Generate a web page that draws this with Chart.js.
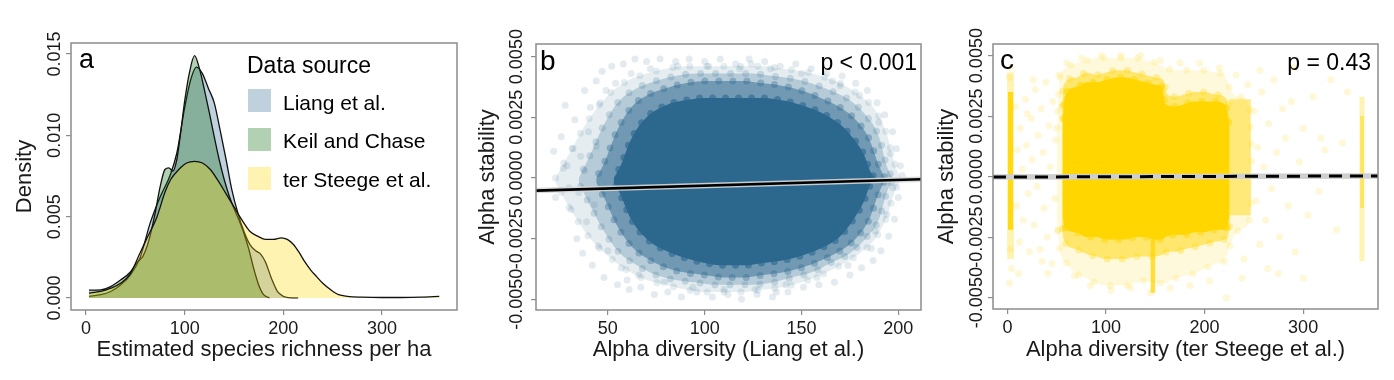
<!DOCTYPE html>
<html><head><meta charset="utf-8">
<script src="https://cdn.jsdelivr.net/npm/chart.js@4.4.1/dist/chart.umd.min.js"></script>
<style>
html,body{margin:0;padding:0;background:#fff;width:1394px;height:380px;overflow:hidden}
canvas{position:absolute;top:0}
</style></head><body>
<canvas id="ca" width="470" height="380" style="left:0px"></canvas>
<canvas id="cb" width="460" height="380" style="left:470px"></canvas>
<canvas id="cc" width="464" height="380" style="left:930px"></canvas>
<script>
// ---------------- Panel a: density curves ----------------
const densTicksX = [0, 100, 200, 300];
const densTicksY = [0, 0.005, 0.010, 0.015];
const seriesNames = ['Liang et al.', 'Keil and Chase', 'ter Steege et al.'];
const liangX = [3, 15, 25, 35, 45, 55, 65, 75, 85, 92, 100, 106, 112, 118, 124, 130, 136, 142, 148, 154, 160, 166, 172, 177, 182, 188, 194, 200, 206, 215];
const liangY = [0.0001, 0.0002, 0.0004, 0.0008, 0.0014, 0.0025, 0.0046, 0.0062, 0.0075, 0.0089, 0.0117, 0.0134, 0.0142, 0.0138, 0.0129, 0.0120, 0.0103, 0.0085, 0.0066, 0.0052, 0.0041, 0.0033, 0.0029, 0.0027, 0.0022, 0.0012, 0.0004, 0.0001, 0.00002, 0];
const keilX = [3, 15, 25, 35, 45, 52, 58, 64, 70, 75, 80, 84, 88, 92, 96, 100, 105, 110, 115, 120, 125, 130, 135, 140, 145, 150, 155, 160, 165, 170, 175, 180, 186];
const keilY = [0.00048, 0.0005, 0.0007, 0.0011, 0.0016, 0.0022, 0.0026, 0.0036, 0.0052, 0.0068, 0.0079, 0.0080, 0.0078, 0.0085, 0.0102, 0.0121, 0.0139, 0.0149, 0.0141, 0.0128, 0.0114, 0.0099, 0.0085, 0.0073, 0.0063, 0.0055, 0.0048, 0.0040, 0.0030, 0.0018, 0.0008, 0.0002, 0];
const steegeX = [3, 15, 25, 35, 45, 55, 62, 72, 80, 86, 94, 102, 110, 118, 126, 134, 142, 150, 158, 166, 174, 182, 190, 198, 204, 210, 216, 222, 228, 234, 240, 248, 256, 265, 280, 300, 320, 340, 358];
const steegeY = [0.0003, 0.0004, 0.0006, 0.0009, 0.0015, 0.0028, 0.0037, 0.0050, 0.0065, 0.0073, 0.0079, 0.0083, 0.0084, 0.0083, 0.0079, 0.0072, 0.0064, 0.0056, 0.0048, 0.0041, 0.0038, 0.0036, 0.0036, 0.0037, 0.0036, 0.0033, 0.0028, 0.0022, 0.0017, 0.0013, 0.0009, 0.0005, 0.0002, 0.0001, 0.00005, 0.00003, 0.00003, 0.00005, 0.0001];

// ---------------- Shared stability ticks ----------------
const stabTicksY = [-0.005, -0.0025, 0, 0.0025, 0.005];

// ---------------- Panel b: Liang et al. ----------------
const bTicksX = [50, 100, 150, 200];
const bFitX = [12.9, 211.7];
const bFitY = [-0.00052, -0.000055];
const bHaloX = [23, 30, 40, 50, 60, 70, 80, 90, 100, 110, 120, 130, 140, 150, 160, 170, 180, 188, 194, 198, 201];
const bHaloUp = [0.0000, 0.0010, 0.0024, 0.0034, 0.0040, 0.0043, 0.0045, 0.0046, 0.0046, 0.0046, 0.0046, 0.0046, 0.0045, 0.0044, 0.0042, 0.0039, 0.0034, 0.0028, 0.0018, 0.0006, 0.0000];
const bHaloLo = [-0.0002, -0.0012, -0.0024, -0.0032, -0.0038, -0.0042, -0.0044, -0.0046, -0.0047, -0.0047, -0.0047, -0.0046, -0.0045, -0.0043, -0.0040, -0.0036, -0.0031, -0.0025, -0.0016, -0.0006, -0.0001];
const bMidX = [35, 40, 48, 55, 65, 75, 85, 95, 105, 115, 125, 135, 145, 155, 165, 175, 183, 190, 194, 197];
const bMidUp = [0.0000, 0.0008, 0.0022, 0.0031, 0.0037, 0.0040, 0.0042, 0.0043, 0.0043, 0.0043, 0.0043, 0.0042, 0.0041, 0.0039, 0.0036, 0.0032, 0.0026, 0.0017, 0.0005, 0.0000];
const bMidLo = [-0.0002, -0.0010, -0.0022, -0.0030, -0.0036, -0.0040, -0.0042, -0.0043, -0.0044, -0.0044, -0.0044, -0.0043, -0.0041, -0.0039, -0.0035, -0.0031, -0.0025, -0.0017, -0.0006, -0.0001];
const bDenseX = [44, 48, 55, 62, 70, 80, 90, 100, 110, 120, 130, 140, 150, 160, 170, 178, 185, 190, 193];
const bDenseUp = [0.0000, 0.0006, 0.0020, 0.0029, 0.0034, 0.0037, 0.0039, 0.0040, 0.0040, 0.0040, 0.0039, 0.0038, 0.0036, 0.0033, 0.0029, 0.0024, 0.0016, 0.0005, 0.0000];
const bDenseLo = [-0.0002, -0.0008, -0.0020, -0.0028, -0.0033, -0.0037, -0.0039, -0.0040, -0.0041, -0.0041, -0.0040, -0.0039, -0.0037, -0.0034, -0.0030, -0.0025, -0.0017, -0.0006, -0.0001];
const bCoreX = [53, 56, 62, 70, 80, 90, 100, 110, 120, 130, 140, 150, 160, 170, 176, 182, 186, 188];
const bCoreUp = [0.0000, 0.0004, 0.0016, 0.0025, 0.0030, 0.0032, 0.0033, 0.0033, 0.0033, 0.0033, 0.0032, 0.0030, 0.0027, 0.0022, 0.0017, 0.0010, 0.0002, 0.0000];
const bCoreLo = [-0.0002, -0.0006, -0.0017, -0.0025, -0.0030, -0.0033, -0.0035, -0.0036, -0.0036, -0.0035, -0.0034, -0.0032, -0.0029, -0.0024, -0.0018, -0.0010, -0.0002, -0.0001];
const bPtsX = [22,23,26,28,29,31,33,34,36,37,38,39,41,42,44,45,47,48,52,55,58,61,64,67,70,74,77,81,85,88,92,96,100,104,108,112,116,119,123,127,131,135,139,143,147,151,155,159,163,167,171,175,178,181,184,187,189,191,193,195,197,198,199,200,201,202,
  32,35,40,43,46,50,54,57,62,66,72,79,86,94,102,110,118,126,134,142,150,158,166,174,180,186,190,194,196,197,
  30,27,38,44,49,60,124,137,170,188];
const bPtsY = [0.0011,-0.0008,0.0017,0.0030,0.0005,-0.0013,0.0024,-0.0025,0.0009,-0.0031,0.0036,-0.0018,0.0029,-0.0036,0.0040,-0.0028,0.0044,-0.0041,0.0046,-0.0044,0.0047,-0.0046,0.0049,-0.0045,0.0048,-0.0048,0.0049,-0.0047,0.0048,-0.0049,0.0049,-0.0047,0.0048,-0.0049,0.0049,-0.0048,0.0047,-0.0050,0.0049,-0.0048,0.0048,-0.0049,0.0046,-0.0047,0.0047,-0.0045,0.0045,-0.0044,0.0043,-0.0043,0.0042,-0.0040,0.0039,-0.0037,0.0036,-0.0034,0.0031,-0.0030,0.0026,-0.0024,0.0019,-0.0017,0.0012,-0.0008,0.0005,0.0001,
  0.0012,-0.0006,0.0019,-0.0011,0.0031,-0.0030,0.0039,-0.0037,0.0043,-0.0040,0.0045,-0.0043,0.0046,-0.0045,0.0046,-0.0046,0.0045,-0.0046,0.0045,-0.0044,0.0043,-0.0041,0.0040,-0.0036,0.0034,-0.0029,0.0023,-0.0015,0.0010,-0.0004,
  -0.0004,0.0004,0.0003,0.0013,0.0036,-0.0042,0.0047,-0.0047,0.0038,-0.0022];

// ---------------- Panel c: ter Steege et al. ----------------
const cTicksX = [0, 100, 200, 300];
const cFitX = [-14.8, 376];
const cFitY = [-0.00002, 0.00003];
const cHaloX = [50, 53, 60, 70, 80, 90, 100, 110, 120, 130, 140, 150, 160, 170, 180, 190, 200, 210, 220, 226, 235, 245, 248];
const cHaloUp = [0.0020, 0.0040, 0.0045, 0.0047, 0.0048, 0.0049, 0.0049, 0.0049, 0.0049, 0.0049, 0.0048, 0.0047, 0.0045, 0.0044, 0.0044, 0.0044, 0.0044, 0.0043, 0.0042, 0.0036, 0.0033, 0.0030, 0.0005];
const cHaloLo = [-0.0018, -0.0030, -0.0036, -0.0040, -0.0042, -0.0044, -0.0045, -0.0045, -0.0045, -0.0044, -0.0043, -0.0044, -0.0044, -0.0042, -0.0041, -0.0040, -0.0038, -0.0036, -0.0035, -0.0028, -0.0022, -0.0019, -0.0005];
const cMidX = [55, 57, 70, 80, 90, 100, 110, 120, 130, 140, 150, 158, 162, 170, 180, 190, 200, 210, 220, 224, 226];
const cMidUp = [0.0025, 0.0038, 0.0041, 0.0043, 0.0042, 0.0043, 0.0044, 0.0044, 0.0043, 0.0042, 0.0041, 0.0040, 0.0034, 0.0033, 0.0034, 0.0035, 0.0035, 0.0034, 0.0033, 0.0030, 0.0025];
const cMidLo = [-0.0020, -0.0026, -0.0030, -0.0032, -0.0033, -0.0034, -0.0034, -0.0034, -0.0033, -0.0033, -0.0033, -0.0032, -0.0031, -0.0031, -0.0030, -0.0029, -0.0028, -0.0027, -0.0026, -0.0024, -0.0018];
const cCoreX = [56, 58, 70, 80, 90, 100, 110, 120, 130, 140, 150, 157, 160, 170, 180, 190, 200, 210, 220, 223, 225];
const cCoreUp = [0.0022, 0.0033, 0.0037, 0.0039, 0.0039, 0.0040, 0.0041, 0.0041, 0.0040, 0.0039, 0.0038, 0.0037, 0.0030, 0.0029, 0.0030, 0.0031, 0.0031, 0.0031, 0.0030, 0.0027, 0.0021];
const cCoreLo = [-0.0016, -0.0021, -0.0023, -0.0025, -0.0025, -0.0026, -0.0026, -0.0026, -0.0025, -0.0025, -0.0026, -0.0026, -0.0025, -0.0024, -0.0024, -0.0023, -0.0023, -0.0022, -0.0022, -0.0021, -0.0016];
const cExtX = [225, 247];
const cExtUp = [0.0032, 0.0032];
const cExtLo = [-0.0016, -0.0016];
const cNotchX = [145, 150];
const cNotchUp = [-0.0020, -0.0020];
const cNotchLo = [-0.0048, -0.0048];
const cColLX = [-0.5, 6.5];
const cColLUp = [0.0043, 0.0043];
const cColLLo = [-0.0034, -0.0034];
const cColLDX = [0.3, 5.7];
const cColLDUp = [0.0035, 0.0035];
const cColLDLo = [-0.0022, -0.0022];
const cColRX = [357, 362.5];
const cColRUp = [0.0033, 0.0033];
const cColRLo = [-0.0035, -0.0035];
const cColRDX = [357.8, 361.8];
const cColRDUp = [0.0025, 0.0025];
const cColRDLo = [-0.0013, -0.0013];
const cPtsX = [8,9,10,12,13,15,16,18,19,21,22,24,25,27,28,30,31,33,34,36,37,39,40,42,43,45,46,48,49,51,52,11,26,41,20,35,
  250,252,254,256,258,260,262,265,268,270,273,276,279,282,285,288,292,296,300,305,310,316,322,328,334,340,256,264,275,290,300,318,345,
  60,68,75,84,95,105,115,125,135,145,155,165,175,185,195,205,215,222,232,240,244,238,
  2,3,4,2,3];
const cPtsY = [0.0029,-0.0012,0.0011,-0.0027,0.0020,0.0003,-0.0018,0.0032,0.0013,-0.0007,-0.0031,0.0024,0.0007,-0.0020,0.0036,-0.0004,0.0017,-0.0030,0.0028,0.0010,-0.0013,0.0039,-0.0025,0.0021,0.0004,-0.0036,0.0031,-0.0009,0.0015,-0.0022,0.0042,-0.0040,0.0040,-0.0040,0.0026,-0.0035,
  0.0027,-0.0010,0.0012,-0.0028,0.0035,0.0004,-0.0018,0.0022,-0.0005,0.0040,0.0010,-0.0025,0.0028,0.0016,-0.0012,0.0031,-0.0031,0.0006,0.0020,-0.0016,0.0033,-0.0006,0.0011,0.0040,-0.0022,0.0014,0.0044,-0.0038,-0.0040,0.0045,-0.0042,0.0016,0.0035,
  0.0047,-0.0041,0.0049,-0.0045,0.0050,-0.0047,0.0050,-0.0046,0.0050,-0.0048,0.0048,-0.0046,0.0047,-0.0045,0.0047,-0.0043,0.0045,-0.0050,0.0042,-0.0034,0.0038,-0.0042,
  -0.0044,0.0045,-0.0038,0.0041,-0.0030];

// ---------------- helpers ----------------
const FONT = "'Liberation Sans', Arial, Helvetica, sans-serif";
const INK = '#1a1a1a';
const NONE = 'rgba(0,0,0,0)';
const pts = (xs, ys) => xs.slice(0, Math.min(xs.length, ys.length)).map((x, i) => ({x: x, y: ys[i]}));
function edgeStyle(edge, gap, off) {
  return edge ? {borderColor: edge, borderWidth: 7, borderDash: [0, gap], borderDashOffset: off, borderCapStyle: 'round'}
              : {borderColor: NONE, borderWidth: 0};
}
function band(xs, up, lo, color, edge, gap, off) {
  return [
    Object.assign({type: 'line', data: pts(xs, up), fill: '+1', backgroundColor: color, pointRadius: 0, cubicInterpolationMode: 'monotone'}, edgeStyle(edge, gap || 9, off || 0)),
    Object.assign({type: 'line', data: pts(xs, lo), fill: false, backgroundColor: NONE, pointRadius: 0, cubicInterpolationMode: 'monotone'}, edgeStyle(edge, gap || 9, (off || 0) + 6))
  ];
}
function dots(xs, ys, color, r) {
  return {type: 'line', showLine: false, data: pts(xs, ys), pointRadius: r, pointBackgroundColor: color, pointBorderWidth: 0, pointBorderColor: NONE, borderColor: NONE, fill: false};
}
function ordered(list) { list.forEach((d, i) => { d.order = list.length - i; }); return list; }

const framePlugin = {
  id: 'frame',
  afterDatasetsDraw(chart) {
    const {ctx, chartArea: a} = chart;
    ctx.save();
    ctx.strokeStyle = '#8c8c8c';
    ctx.lineWidth = 1.5;
    ctx.strokeRect(a.left, a.top, a.right - a.left, a.bottom - a.top);
    ctx.restore();
  }
};
function textPlugin(items) {
  return {
    id: 'texts',
    afterDraw(chart) {
      const ctx = chart.ctx;
      ctx.save();
      items.forEach(t => {
        ctx.font = t.size + 'px ' + FONT;
        ctx.fillStyle = t.color || '#000';
        ctx.textAlign = t.align || 'left';
        ctx.textBaseline = 'alphabetic';
        ctx.fillText(t.text, t.x, t.y);
      });
      ctx.restore();
    }
  };
}

function scales(o) {
  return {
    x: {
      type: 'linear', min: o.xmin, max: o.xmax,
      afterBuildTicks: s => { s.ticks = o.xticks.map(v => ({value: v})); },
      afterFit: s => { s.height = o.xh; },
      ticks: {font: {family: FONT, size: 18}, color: INK, padding: 3, maxRotation: 0, minRotation: 0, autoSkip: false, callback: v => String(v)},
      grid: {drawOnChartArea: false, drawTicks: true, tickLength: 5, color: '#8c8c8c', lineWidth: 1.2},
      border: {display: false},
      title: {display: true, text: o.xtitle, font: {family: FONT, size: 22}, color: INK, padding: {top: 0, bottom: 17}}
    },
    y: {
      type: 'linear', min: o.ymin, max: o.ymax,
      afterBuildTicks: s => { s.ticks = o.yticks.map(v => ({value: v})); },
      afterFit: s => { s.width = o.yw; },
      ticks: {font: {family: FONT, size: 18}, color: INK, minRotation: 90, maxRotation: 90, crossAlign: 'center', padding: o.ypad, autoSkip: false, callback: v => v.toFixed(o.ydec)},
      grid: {drawOnChartArea: false, drawTicks: true, tickLength: 5, color: '#8c8c8c', lineWidth: 1.2},
      border: {display: false},
      title: {display: true, text: o.ytitle, font: {family: FONT, size: 22}, color: INK, padding: {top: o.ytpad, bottom: 0}}
    }
  };
}
const baseOpts = {responsive: false, animation: false, events: [], devicePixelRatio: 1,
  plugins: {legend: {display: false}, tooltip: {enabled: false}}};

// ---------------- Chart a ----------------
const densColors = ['rgba(44,104,142,0.3)', 'rgba(0,100,0,0.3)', 'rgba(255,215,0,0.3)'];
const densSeries = [[liangX, liangY], [keilX, keilY], [steegeX, steegeY]];
const dsA = ordered(densSeries.map((s, i) => ({
  type: 'line', label: seriesNames[i], data: pts(s[0], s[1]), fill: 'origin',
  backgroundColor: densColors[i], borderColor: '#111', borderWidth: 1.3, pointRadius: 0,
  cubicInterpolationMode: 'monotone'
})));
const legendA = {
  id: 'legendA',
  afterDraw(chart) {
    const ctx = chart.ctx;
    ctx.save();
    ctx.fillStyle = '#000';
    ctx.font = '23px ' + FONT;
    ctx.textBaseline = 'alphabetic';
    ctx.fillText('Data source', 247, 73);
    const keyY = [89, 128, 167];
    const txtY = [110, 148, 187];
    chart.data.datasets.forEach((d, i) => {
      ctx.fillStyle = d.backgroundColor;
      ctx.fillRect(248, keyY[i], 23, 23);
      ctx.fillStyle = '#000';
      ctx.font = '21px ' + FONT;
      ctx.fillText(d.label, 283, txtY[i]);
    });
    ctx.restore();
  }
};
new Chart(document.getElementById('ca'), {
  type: 'line',
  data: {datasets: dsA},
  options: Object.assign({}, baseOpts, {
    layout: {padding: {top: 43, right: 13, left: 0, bottom: 0}},
    scales: scales({xmin: -15.2, xmax: 376, ymin: -0.00074, ymax: 0.01568, xticks: densTicksX, yticks: densTicksY,
      xh: 70, yw: 71, ypad: -11.5, ydec: 3, ytpad: 11.8, xtitle: 'Estimated species richness per ha', ytitle: 'Density'})
  }),
  plugins: [framePlugin, legendA, textPlugin([{text: 'a', x: 79, y: 68, size: 27}])]
});

// ---------------- Chart b ----------------
const BLUE = 'rgba(44,104,142,';
const dsB = ordered([
  dots(bPtsX, bPtsY, BLUE + '0.13)', 3.5),
  ...band(bHaloX, bHaloUp, bHaloLo, BLUE + '0.12)', BLUE + '0.12)', 17, 0),
  ...band(bMidX, bMidUp, bMidLo, BLUE + '0.25)', BLUE + '0.2)', 15, 5),
  ...band(bDenseX, bDenseUp, bDenseLo, BLUE + '0.5)', BLUE + '0.35)', 14, 9),
  ...band(bCoreX, bCoreUp, bCoreLo, BLUE + '1)', BLUE + '0.6)', 13, 3),
  {type: 'line', data: pts(bFitX, bFitY), borderColor: 'rgba(215,215,215,0.9)', borderWidth: 5.5, pointRadius: 0, fill: false},
  {type: 'line', data: pts(bFitX, bFitY), borderColor: '#000', borderWidth: 2.6, pointRadius: 0, fill: false}
]);
new Chart(document.getElementById('cb'), {
  type: 'line',
  data: {datasets: dsB},
  options: Object.assign({}, baseOpts, {
    layout: {padding: {top: 44, right: 9, left: 0, bottom: 0}},
    scales: scales({xmin: 12.9, xmax: 211.7, ymin: -0.00544, ymax: 0.00552, xticks: bTicksX, yticks: stabTicksY,
      xh: 70, yw: 66, ypad: -16.5, ydec: 4, ytpad: 4.3, xtitle: 'Alpha diversity (Liang et al.)', ytitle: 'Alpha stability'})
  }),
  plugins: [framePlugin, textPlugin([{text: 'b', x: 70, y: 70, size: 28}, {text: 'p < 0.001', x: 447, y: 70, size: 23, align: 'right'}])]
});

// ---------------- Chart c ----------------
const GOLD = 'rgba(255,214,0,';
const dsC = ordered([
  dots(cPtsX, cPtsY, GOLD + '0.16)', 3.5),
  ...band(cHaloX, cHaloUp, cHaloLo, GOLD + '0.14)', GOLD + '0.16)', 17, 0),
  ...band(cColLX, cColLUp, cColLLo, GOLD + '0.3)'),
  ...band(cColRX, cColRUp, cColRLo, GOLD + '0.3)'),
  ...band(cColRDX, cColRDUp, cColRDLo, GOLD + '0.45)'),
  ...band(cExtX, cExtUp, cExtLo, GOLD + '0.45)'),
  ...band(cMidX, cMidUp, cMidLo, GOLD + '0.5)', GOLD + '0.3)', 15, 5),
  ...band(cCoreX, cCoreUp, cCoreLo, GOLD + '1)', GOLD + '0.5)', 14, 9),
  ...band(cNotchX, cNotchUp, cNotchLo, GOLD + '0.75)'),
  ...band(cColLDX, cColLDUp, cColLDLo, GOLD + '0.9)'),
  {type: 'line', data: pts(cFitX, cFitY), borderColor: '#cfcfcf', borderWidth: 5.5, pointRadius: 0, fill: false},
  {type: 'line', data: pts(cFitX, cFitY), borderColor: '#000', borderWidth: 3, borderDash: [13, 8], pointRadius: 0, fill: false}
]);
new Chart(document.getElementById('cc'), {
  type: 'line',
  data: {datasets: dsC},
  options: Object.assign({}, baseOpts, {
    layout: {padding: {top: 44, right: 16, left: 0, bottom: 0}},
    scales: scales({xmin: -14.8, xmax: 376, ymin: -0.00547, ymax: 0.00548, xticks: cTicksX, yticks: stabTicksY,
      xh: 71, yw: 63, ypad: -19.5, ydec: 4, ytpad: 3.5, xtitle: 'Alpha diversity (ter Steege et al.)', ytitle: 'Alpha stability'})
  }),
  plugins: [framePlugin, textPlugin([{text: 'c', x: 70, y: 69, size: 28}, {text: 'p = 0.43', x: 441, y: 70, size: 23, align: 'right'}])]
});
</script>
</body></html>
